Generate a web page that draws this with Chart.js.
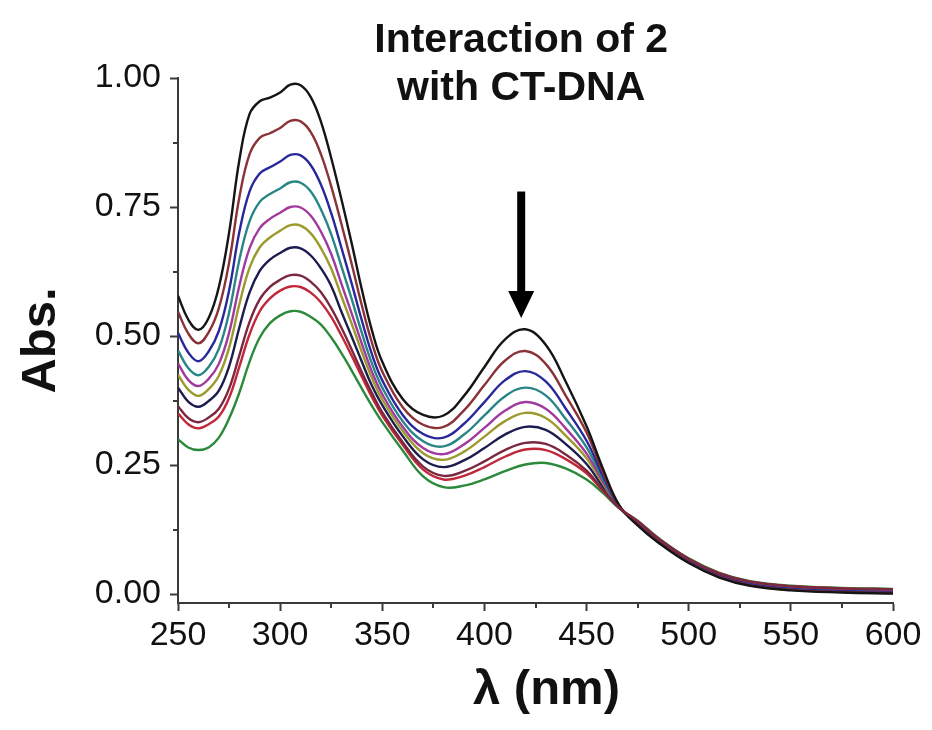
<!DOCTYPE html>
<html>
<head>
<meta charset="utf-8">
<script src="https://cdn.jsdelivr.net/npm/chart.js@4.4.1/dist/chart.umd.min.js"></script>
<style>
  html, body { margin: 0; padding: 0; background: #fff; }
  #wrap { width: 932px; height: 730px; }
</style>
</head>
<body>
<div id="wrap"><canvas id="c" width="932" height="730"></canvas></div>
<script>
// Wavelength grid (nm)
const wavelengths = [250,255,260,265,270,275,280,285,290,295,300,305,310,315,320,325,330,335,340,345,350,
  360,370,380,390,400,410,420,430,440,450,458,466,475,485,500,515,530,550,575,600];

// Absorbance spectra, from free complex (top) to highest CT-DNA loading (bottom)
const spec1 = [0.578,0.532,0.512,0.535,0.595,0.700,0.840,0.930,0.955,0.962,0.972,0.987,0.986,0.963,0.915,0.845,0.765,0.680,0.590,0.510,0.450,
  0.378,0.347,0.346,0.384,0.440,0.493,0.513,0.483,0.410,0.325,0.243,0.172,0.133,0.100,0.060,0.032,0.016,0.007,0.003,0.001];
const spec2 = [0.547,0.505,0.486,0.507,0.554,0.642,0.768,0.852,0.884,0.893,0.903,0.917,0.916,0.895,0.852,0.790,0.717,0.640,0.559,0.486,0.431,
  0.362,0.328,0.324,0.356,0.405,0.452,0.471,0.446,0.383,0.313,0.236,0.171,0.134,0.101,0.061,0.033,0.017,0.008,0.004,0.002];
const spec3 = [0.506,0.468,0.451,0.470,0.510,0.588,0.701,0.780,0.815,0.827,0.838,0.851,0.850,0.831,0.793,0.738,0.671,0.602,0.530,0.464,0.414,
  0.347,0.310,0.303,0.330,0.372,0.414,0.432,0.412,0.358,0.297,0.229,0.170,0.136,0.103,0.063,0.035,0.019,0.010,0.006,0.004];
const spec4 = [0.472,0.438,0.424,0.440,0.475,0.545,0.647,0.722,0.760,0.775,0.786,0.798,0.797,0.780,0.745,0.697,0.635,0.572,0.506,0.446,0.400,
  0.335,0.296,0.286,0.309,0.346,0.383,0.400,0.385,0.338,0.284,0.223,0.169,0.137,0.104,0.064,0.036,0.020,0.011,0.007,0.005];
const spec5 = [0.447,0.415,0.403,0.417,0.446,0.506,0.597,0.670,0.709,0.727,0.739,0.750,0.749,0.733,0.702,0.659,0.601,0.544,0.485,0.430,0.387,
  0.324,0.283,0.271,0.290,0.322,0.355,0.372,0.359,0.320,0.272,0.218,0.168,0.138,0.105,0.065,0.037,0.021,0.012,0.008,0.006];
const spec6 = [0.425,0.396,0.384,0.397,0.423,0.477,0.561,0.632,0.672,0.691,0.704,0.715,0.714,0.699,0.670,0.631,0.577,0.524,0.469,0.418,0.377,
  0.316,0.273,0.260,0.276,0.305,0.335,0.351,0.341,0.306,0.263,0.214,0.168,0.139,0.106,0.066,0.038,0.022,0.013,0.009,0.007];
const spec7 = [0.400,0.373,0.363,0.374,0.394,0.441,0.516,0.584,0.626,0.648,0.661,0.671,0.670,0.656,0.631,0.597,0.547,0.499,0.450,0.403,0.366,
  0.306,0.261,0.246,0.259,0.283,0.309,0.324,0.318,0.290,0.252,0.208,0.167,0.139,0.106,0.066,0.038,0.022,0.013,0.009,0.007];
const spec8 = [0.364,0.341,0.333,0.342,0.359,0.398,0.462,0.527,0.571,0.595,0.609,0.618,0.617,0.605,0.585,0.554,0.516,0.474,0.430,0.389,0.352,
  0.294,0.247,0.229,0.238,0.257,0.279,0.293,0.291,0.270,0.239,0.202,0.167,0.141,0.108,0.068,0.040,0.024,0.015,0.011,0.009];
const spec9 = [0.350,0.329,0.321,0.329,0.344,0.380,0.440,0.503,0.548,0.573,0.588,0.596,0.595,0.584,0.565,0.537,0.501,0.462,0.421,0.381,0.346,
  0.289,0.241,0.222,0.229,0.246,0.266,0.280,0.279,0.261,0.234,0.200,0.167,0.141,0.108,0.068,0.040,0.024,0.015,0.011,0.009];
const spec10 = [0.300,0.284,0.279,0.284,0.303,0.340,0.390,0.450,0.497,0.525,0.540,0.548,0.547,0.537,0.522,0.497,0.467,0.433,0.398,0.364,0.333,
  0.278,0.228,0.207,0.210,0.222,0.238,0.251,0.254,0.243,0.222,0.196,0.166,0.142,0.109,0.069,0.041,0.025,0.016,0.012,0.010];

const spectra = [spec1, spec2, spec3, spec4, spec5, spec6, spec7, spec8, spec9, spec10];
const lineColors = ['#151515', '#8a3236', '#28289a', '#2a8686', '#a03a9e', '#9c9a2c', '#1c1c4e', '#7a2840', '#c0283a', '#2a8a3a'];
// stacking of the traces (lower value = drawn on top)
const drawOrder = [2, 3, 4, 5, 6, 7, 8, 0, 1, 9];

// Axis ticks
const xTicks = [250, 300, 350, 400, 450, 500, 550, 600];
const xMinorTicks = [275, 325, 375, 425, 475, 525, 575];
const yTicks = [0, 0.25, 0.5, 0.75, 1.0];
const yMinorTicks = [0.125, 0.375, 0.625, 0.875];

// Texts
const titleLines = ['Interaction of 2', 'with CT-DNA'];
const xTitle = '\u03bb (nm)';
const yTitle = 'Abs.';

// Trend arrow over the 420 nm band (nm, absorbance)
const arrowX = 418;
const arrowFrom = 0.78;
const arrowTo = 0.535;

const axisColor = '#3a3a3a';
const textColor = '#111';
const fontFamily = '"Liberation Sans", Arial, Helvetica, sans-serif';

const datasets = spectra.map((s, i) => ({
  data: wavelengths.map((w, j) => ({ x: w, y: s[j] })),
  borderColor: lineColors[i],
  borderWidth: 2.4,
  pointRadius: 0,
  fill: false,
  tension: 0.4,
  order: drawOrder[i]
}));

const decor = {
  id: 'decor',
  afterDraw(chart) {
    const { ctx, scales: { x, y }, chartArea } = chart;
    ctx.save();
    // minor ticks
    ctx.strokeStyle = axisColor;
    ctx.lineWidth = 2;
    ctx.beginPath();
    xMinorTicks.forEach(v => {
      const px = Math.round(x.getPixelForValue(v));
      ctx.moveTo(px, chartArea.bottom);
      ctx.lineTo(px, chartArea.bottom + 5);
    });
    yMinorTicks.forEach(v => {
      const py = Math.round(y.getPixelForValue(v));
      ctx.moveTo(chartArea.left, py);
      ctx.lineTo(chartArea.left - 5, py);
    });
    ctx.stroke();

    // arrow
    const ax = x.getPixelForValue(arrowX);
    const y1 = y.getPixelForValue(arrowFrom);
    const y2 = y.getPixelForValue(arrowTo);
    ctx.fillStyle = '#000';
    ctx.fillRect(ax - 4, y1, 8, (y2 - y1) - 22);
    ctx.beginPath();
    ctx.moveTo(ax - 13, y2 - 27);
    ctx.lineTo(ax + 13, y2 - 27);
    ctx.lineTo(ax, y2);
    ctx.closePath();
    ctx.fill();

    // chart title
    ctx.font = 'bold 41px ' + fontFamily;
    ctx.textAlign = 'center';
    ctx.textBaseline = 'alphabetic';
    ctx.fillStyle = textColor;
    titleLines.forEach((t, i) => ctx.fillText(t, ax, chartArea.top - 26 + i * 48));

    // x-axis title
    ctx.font = 'bold 49px ' + fontFamily;
    ctx.textBaseline = 'middle';
    ctx.fillText(xTitle, (chartArea.left + chartArea.right) / 2 + 11, 690);
    ctx.restore();
  }
};

new Chart(document.getElementById('c'), {
  type: 'line',
  data: { datasets },
  options: {
    responsive: false,
    animation: false,
    devicePixelRatio: 1,
    layout: { padding: { top: 78, right: 39, left: 0, bottom: 0 } },
    plugins: { legend: { display: false }, tooltip: { enabled: false }, title: { display: false } },
    scales: {
      x: {
        type: 'linear',
        min: 250,
        max: 600,
        afterBuildTicks: s => { s.ticks = xTicks.map(v => ({ value: v })); },
        afterFit: s => { s.height = 127; },
        border: { display: true, color: axisColor, width: 2 },
        grid: { drawOnChartArea: false, drawTicks: true, tickLength: 8, tickWidth: 2, tickColor: axisColor },
        ticks: {
          color: textColor,
          font: { family: fontFamily, size: 34 },
          padding: 4,
          maxRotation: 0,
          callback: v => String(v)
        },
        title: { display: false }
      },
      y: {
        type: 'linear',
        min: -0.0174,
        max: 1.0,
        afterBuildTicks: s => { s.ticks = yTicks.map(v => ({ value: v })); },
        afterFit: s => { s.width = 178; },
        border: { display: true, color: axisColor, width: 2 },
        grid: { drawOnChartArea: false, drawTicks: true, tickLength: 8, tickWidth: 2, tickColor: axisColor },
        ticks: {
          color: textColor,
          font: { family: fontFamily, size: 34 },
          padding: 9,
          callback: v => v.toFixed(2)
        },
        title: {
          display: true,
          text: yTitle,
          color: textColor,
          font: { family: fontFamily, size: 49, weight: 'bold' },
          padding: { top: 12, bottom: 0 }
        }
      }
    }
  },
  plugins: [decor]
});
</script>
</body>
</html>
